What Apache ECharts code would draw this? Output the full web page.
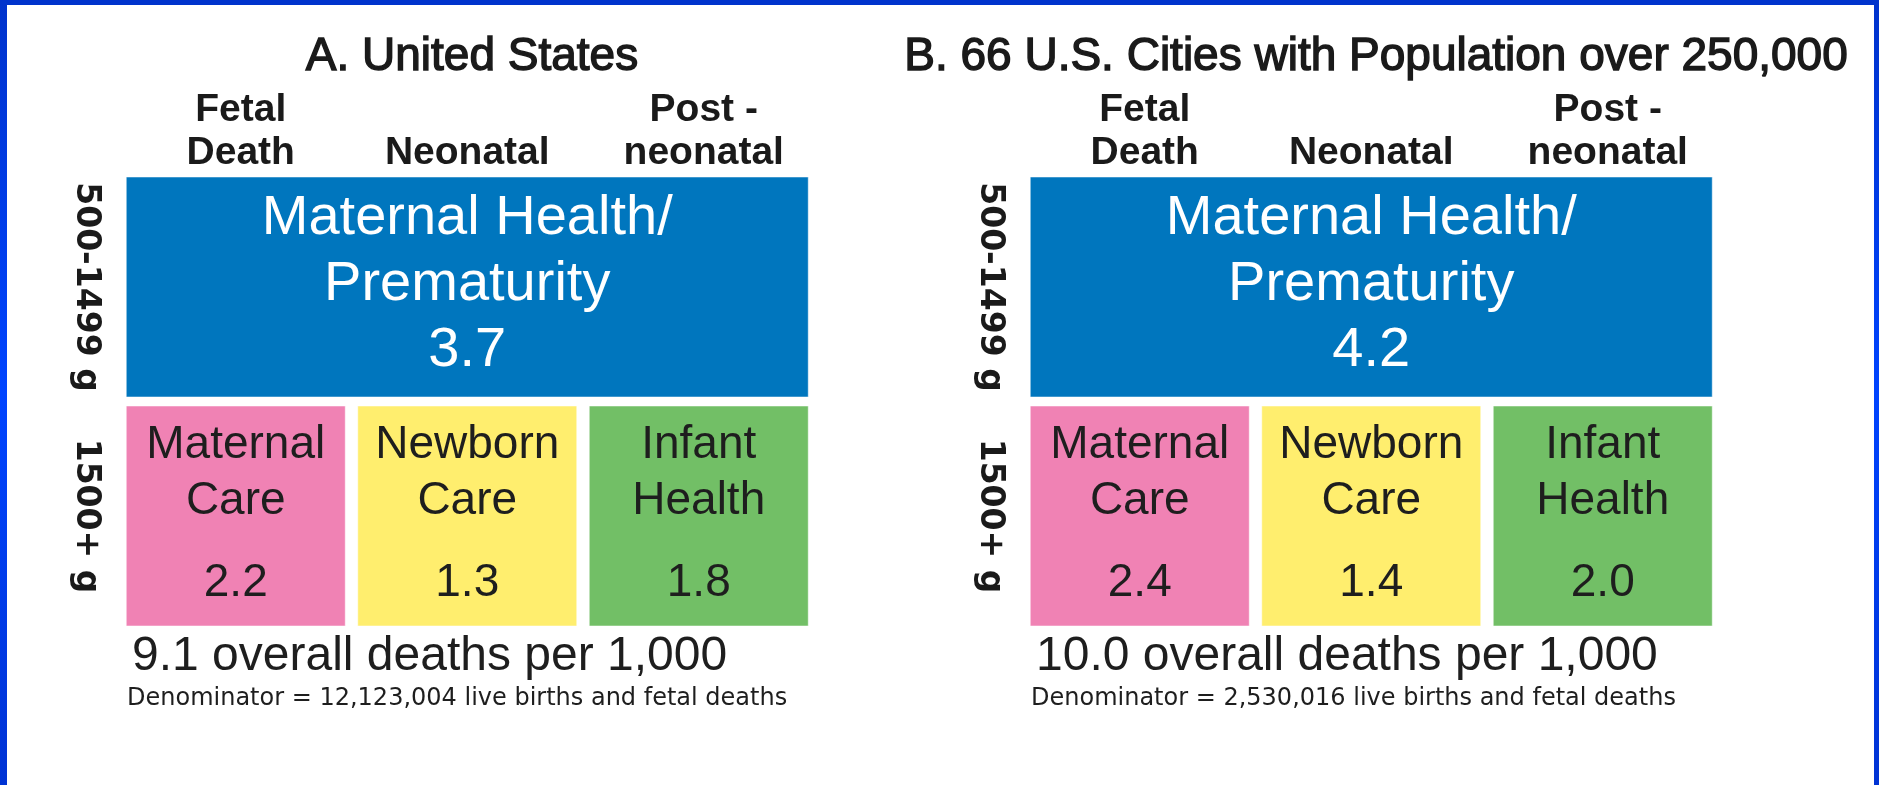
<!DOCTYPE html>
<html>
<head>
<meta charset="utf-8">
<title>Fetal and infant deaths per 1,000</title>
<script src="https://cdn.jsdelivr.net/npm/echarts@6/dist/echarts.min.js"></script>
<style>
    html, body {margin: 0; padding: 0; background: #fff;}
    #main {width: 1879px; height: 785px;}
</style>
</head>
<body>
<div id="main"></div>
<script>
// data
var panelTitles = ['A. United States', 'B. 66 U.S. Cities with Population over 250,000'];
var periods = ['Fetal\nDeath', 'Neonatal', 'Post -\nneonatal'];
var weightRows = ['500-1499 g', '1500+ g'];
var cellNames = ['Maternal Health/\nPrematurity', 'Maternal\nCare', 'Newborn\nCare', 'Infant\nHealth'];
var cellStart = [0, 0, 1, 2];     // first period column of each cell
var cellEnd = [2, 0, 1, 2];       // last period column of each cell
var cellRow = [0, 1, 1, 1];       // weight row of each cell
var usRates = [3.7, 2.2, 1.3, 1.8];
var cityRates = [4.2, 2.4, 1.4, 2.0];
var overallRates = [9.1, 10.0];
var denominators = ['12,123,004', '2,530,016'];

var cellColors = ['#0076be', '#f082b4', '#ffee6e', '#72bf66'];
var gapX = 12.5, gapY = 9;
var sans = '"Liberation Sans", Arial, sans-serif';

function cellData(rates) {
    var arr = [];
    for (var i = 0; i < rates.length; i++) {
        arr.push([cellStart[i], cellEnd[i], cellRow[i], rates[i]]);
    }
    return arr;
}

function renderCell(params, api) {
    var i = params.dataIndex;
    var band = api.size([1, 1]);
    var p0 = api.coord([api.value(0), api.value(2)]);
    var p1 = api.coord([api.value(1), api.value(2)]);
    var x = p0[0] - band[0] / 2 + gapX / 2;
    var w = p1[0] + band[0] / 2 - gapX / 2 - x;
    var y = p0[1] - band[1] / 2 + gapY / 2;
    var h = band[1] - gapY;
    var val = api.value(3).toFixed(1);
    var kids = [{
        type: 'rect',
        shape: {x: x, y: y, width: w, height: h},
        style: {fill: cellColors[i], stroke: 'rgba(255,255,255,0.5)', lineWidth: 1}
    }];
    if (i === 0) {   // big blue cell on top
        kids.push({
            type: 'text',
            style: {
                text: cellNames[i] + '\n' + val,
                x: x + w / 2, y: y + h * 0.49,
                align: 'center', verticalAlign: 'middle',
                fill: '#fff', fontSize: 56, lineHeight: 66, fontFamily: sans
            }
        });
    } else {
        kids.push({
            type: 'text',
            style: {
                text: cellNames[i],
                x: x + w / 2, y: y + h * 0.305,
                align: 'center', verticalAlign: 'middle',
                fill: '#1e1e1e', fontSize: 46, lineHeight: 56, fontFamily: sans
            }
        });
        kids.push({
            type: 'text',
            style: {
                text: val,
                x: x + w / 2, y: y + h * 0.805,
                align: 'center', verticalAlign: 'middle',
                fill: '#1e1e1e', fontSize: 46, fontFamily: sans
            }
        });
    }
    return {type: 'group', children: kids};
}

var headStyle = {color: '#1a1a1a', fontSize: 39, fontWeight: 'bold', lineHeight: 43, fontFamily: sans};
var gridLefts = [120, 1024];
var chart = echarts.init(document.getElementById('main'));

var grids = [], xAxes = [], yAxes = [], series = [], titles = [], notes = [];
for (var k = 0; k < 2; k++) {
    grids.push({left: gridLefts[k], top: 172.5, width: 694.5, height: 458});
    xAxes.push({
        type: 'category', gridIndex: k, position: 'top', data: periods,
        axisLine: {show: false}, axisTick: {show: false}, splitLine: {show: false},
        axisLabel: {
            margin: -2, interval: 0,
            formatter: function (v, idx) {
                return idx === 1 ? '{n|' + v + '}' : '{s|' + v + '}';
            },
            rich: {
                n: headStyle,
                s: echarts.util.extend({padding: [0, 0, 0, 10]}, headStyle)
            }
        }
    });
    yAxes.push({
        type: 'category', gridIndex: k, inverse: true, data: weightRows,
        axisLine: {show: false}, axisTick: {show: false}, splitLine: {show: false},
        axisLabel: {
            rotate: -90, margin: 18, interval: 0, color: '#1a1a1a', fontSize: 33,
            fontWeight: 'bold', fontFamily: '"DejaVu Sans", Verdana, sans-serif'
        }
    });
    series.push({
        type: 'custom', xAxisIndex: k, yAxisIndex: k, silent: true,
        encode: {x: [0, 1], y: 2},
        renderItem: renderCell,
        data: cellData(k === 0 ? usRates : cityRates)
    });
    titles.push({
        text: panelTitles[k], left: gridLefts[k] + 347, top: 29, textAlign: 'center',
        textStyle: {
            color: '#1a1a1a', fontSize: 46, fontWeight: 'normal', fontFamily: sans,
            textBorderColor: '#1a1a1a', textBorderWidth: 1.4
        }
    });
    notes.push({
        type: 'text', left: gridLefts[k] + 12, top: 633,
        style: {
            text: overallRates[k].toFixed(1) + ' overall deaths per 1,000',
            fill: '#1e1e1e', fontSize: 48, fontFamily: sans
        }
    });
    notes.push({
        type: 'text', left: gridLefts[k] + 7, top: 687,
        style: {
            text: 'Denominator = ' + denominators[k] + ' live births and fetal deaths',
            fill: '#1e1e1e', fontSize: 24, fontFamily: '"DejaVu Sans", Verdana, sans-serif'
        }
    });
}

// blue slide frame
var frameBlue = new echarts.graphic.LinearGradient(0, 0, 0, 1, [
    {offset: 0, color: '#0033cc'}, {offset: 0.5, color: '#0044ff'}, {offset: 1, color: '#0033d4'}]);
notes.push({type: 'rect', left: 0, top: 0, shape: {width: 1879, height: 5}, style: {fill: '#0033cc'}});
notes.push({type: 'rect', left: 0, top: 0, shape: {width: 7, height: 785}, style: {fill: frameBlue}});
notes.push({type: 'rect', left: 1874, top: 0, shape: {width: 5, height: 785}, style: {fill: frameBlue}});

var option = {
    backgroundColor: '#fff',
    animation: false,
    title: titles,
    grid: grids,
    xAxis: xAxes,
    yAxis: yAxes,
    series: series,
    graphic: notes
};
chart.setOption(option);
</script>
</body>
</html>
